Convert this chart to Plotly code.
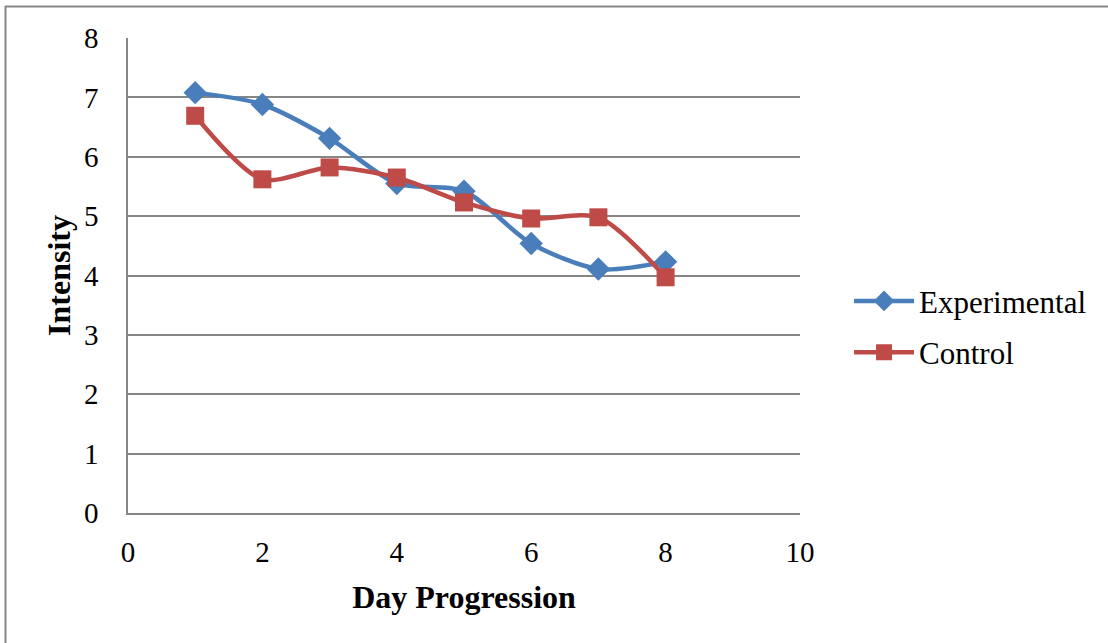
import plotly.graph_objects as go

days = [1, 2, 3, 4, 5, 6, 7, 8]
experimental = [7.08, 6.88, 6.31, 5.55, 5.42, 4.54, 4.11, 4.23]
control = [6.69, 5.62, 5.82, 5.65, 5.23, 4.96, 4.98, 3.97]

W, H = 1108, 643
L, R, T, B = 128, 800, 38, 513

fig = go.Figure()
fig.add_trace(go.Scatter(
    x=days, y=experimental, name="Experimental", mode="lines+markers",
    legendgroup="exp",
    line=dict(color="#4A7EBB", width=4.5, shape="spline", smoothing=0.8),
    marker=dict(symbol="diamond", size=18, color="#4A7EBB"),
))
fig.add_trace(go.Scatter(
    x=days, y=control, name="Control", mode="lines+markers",
    legendgroup="ctl",
    line=dict(color="#BE4B48", width=4.5, shape="spline", smoothing=0.8),
    marker=dict(symbol="square", size=18, color="#BE4B48"),
))

font_family = "Liberation Serif, Times New Roman, serif"
fig.update_layout(
    width=W, height=H,
    margin=dict(l=L, r=W - R, t=T, b=H - B),
    paper_bgcolor="white", plot_bgcolor="white",
    font=dict(family=font_family, size=28, color="black"),
    showlegend=True,
    legend=dict(x=1.073, y=0.392, xanchor="left", yanchor="middle",
                font=dict(size=31), itemwidth=60, tracegroupgap=8,
                bgcolor="rgba(0,0,0,0)"),
    xaxis=dict(range=[0, 10], tickvals=[0, 2, 4, 6, 8, 10], showgrid=False,
               showline=True, linecolor="#868686", linewidth=1.5,
               zeroline=False, ticks="", ticklabelstandoff=12,
               tickfont=dict(size=29),
               title=dict(text="<b>Day Progression</b>", font=dict(size=32), standoff=19)),
    yaxis=dict(range=[0, 8], tickvals=list(range(0, 9)), showgrid=True,
               gridcolor="#868686", gridwidth=1.5,
               showline=True, linecolor="#868686", linewidth=1.5,
               zeroline=False, ticks="", ticklabelstandoff=22,
               tickfont=dict(size=29),
               title=dict(text="<b>Intensity</b>", font=dict(size=32), standoff=4)),
)

# outer chart frame (top and left edges)
pw = R - L
ph = B - T
def px_x(p):
    return (p - L) / pw
def px_y(p):
    return (B - p) / ph
fig.add_shape(type="line", xref="paper", yref="paper",
              x0=px_x(5), x1=px_x(W + 5), y0=px_y(6.5), y1=px_y(6.5),
              line=dict(color="#868686", width=2))
fig.add_shape(type="line", xref="paper", yref="paper",
              x0=px_x(5.5), x1=px_x(5.5), y0=px_y(6), y1=px_y(H + 5),
              line=dict(color="#868686", width=2))

fig.write_html("out.html")
